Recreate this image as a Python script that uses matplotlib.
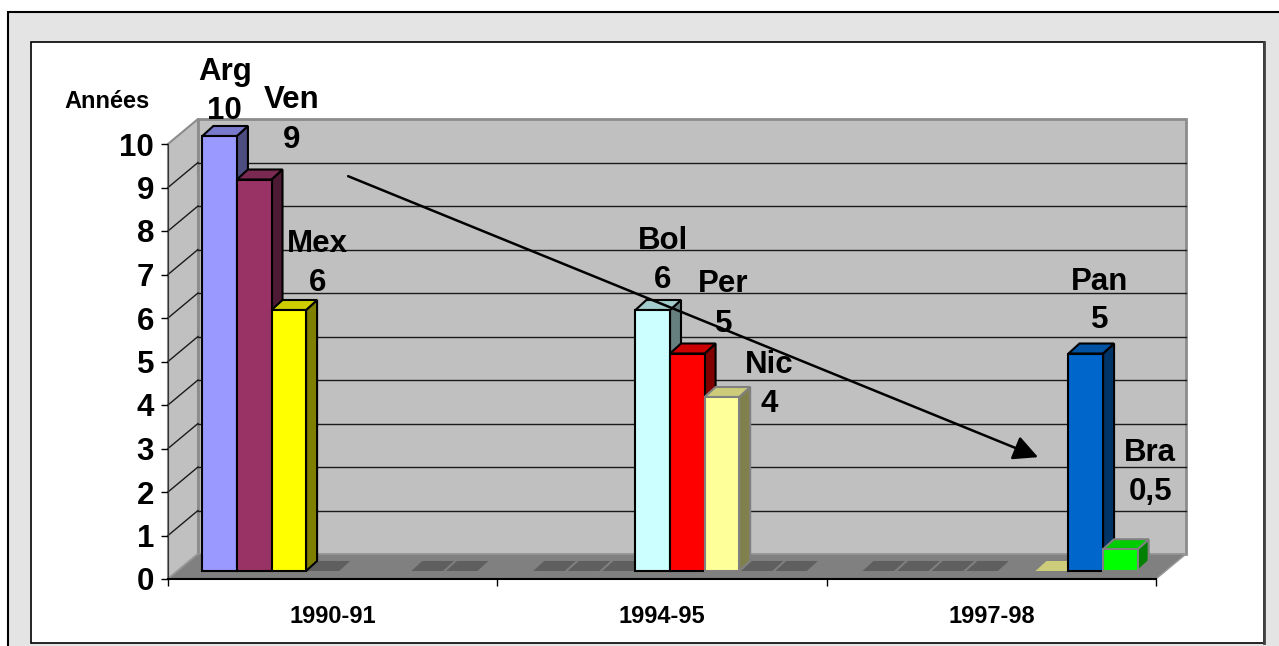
import matplotlib
matplotlib.use('Agg')
import matplotlib.pyplot as plt
from matplotlib.patches import Polygon, Rectangle
from matplotlib.colors import to_rgb

plt.rcParams['font.family'] = ['Liberation Sans', 'DejaVu Sans']
plt.rcParams['font.weight'] = 'bold'

# --- data -------------------------------------------------------------
categories = ['1990-91', '1994-95', '1997-98']
countries = ['Arg', 'Ven', 'Mex', 'Bol', 'Per', 'Nic', 'Pan', 'Bra']
# None = no point, 0 = flat mark on the floor
arg = [10, 0, 0]
ven = [9, 0, 0]
mex = [6, 0, 0]
bol = [0, 6, 0]
per = [None, 5, None]
nic = [None, 4, 0]
pan = [0, 0, 5]
bra = [0, 0, 0.5]
series = [arg, ven, mex, bol, per, nic, pan, bra]

# --- styles -----------------------------------------------------------
face_colors = ['#9999FF', '#993366', '#FFFF00', '#CCFFFF',
               '#FF0000', '#FFFF99', '#0066CC', '#00FF00']
edge_colors = ['black', 'black', 'black', 'black',
               'black', '#808080', 'black', '#808080']
zero_color = '#5F5F5F'
own_zero_color = {'Nic'}          # keeps its own shade on the floor
# label placement (pixels from the top of the bar front face)
label_dx = [5, 37, 29, 10, 36, 47, 14, 30]
label_dy = [17, 32, 19, 22, 22, -15, 25, 49]


def shade(c, f):
    r, g, b = to_rgb(c)
    return (r * f, g * f, b * f)


W, H = 1279, 646
fig = plt.figure(figsize=(W / 100, H / 100), dpi=100, facecolor='white')

# background frames
bg = fig.add_axes([0, 0, 1, 1])
bg.set_xlim(0, W)
bg.set_ylim(H, 0)
bg.axis('off')
bg.add_patch(Rectangle((8, 12), 1400, 700, fc='#E4E4E4', ec='black', lw=1.5))
bg.add_patch(Rectangle((31, 42), 1233, 601, fc='white', ec='black', lw=1.2))
bg.plot([1264, 1264], [42, 643], color='#404040', lw=2)

fig.text(107 / W, 1 - 101 / H, 'Années', ha='center', va='center', fontsize=17)

# main axes = front plane of the 3D box
ax = fig.add_axes([168 / W, (H - 579) / H, 988 / W, 435 / H])
ax.set_xlim(-0.5, 2.5)
ax.set_ylim(0, 10)
ax.patch.set_visible(False)

ppx = ax.transData.transform((1, 0))[0] - ax.transData.transform((0, 0))[0]
ppy = ax.transData.transform((0, 1))[1] - ax.transData.transform((0, 0))[1]


def off(dx, dy):
    return dx / ppx, dy / ppy


# walls and floor
wx, wy = off(30, 25)
ax.add_patch(Polygon([(-0.5 + wx, wy), (2.5 + wx, wy), (2.5 + wx, 10 + wy), (-0.5 + wx, 10 + wy)],
                     fc='#C0C0C0', ec='#8C8C8C', lw=2, zorder=1, clip_on=False))
ax.add_patch(Polygon([(-0.5, 0), (-0.5 + wx, wy), (-0.5 + wx, 10 + wy), (-0.5, 10)],
                     fc='#C0C0C0', ec='#8C8C8C', lw=1.5, zorder=1, clip_on=False))
for v in range(1, 10):
    ax.plot([-0.5 + wx, 2.5 + wx], [v + wy, v + wy], color='#1A1A1A', lw=1, zorder=2, clip_on=False)
    ax.plot([-0.5, -0.5 + wx], [v, v + wy], color='#1A1A1A', lw=1, zorder=2, clip_on=False)
ax.add_patch(Polygon([(-0.5, 0), (2.5, 0), (2.5 + wx, wy), (-0.5 + wx, wy)],
                     fc='#808080', ec='#9A9A9A', lw=1, zorder=2, clip_on=False))

# bars
bar_w = 0.105
n = len(countries)
fx, fy = off(8, 8)
bx, by = off(19, 18)

# flat marks for zero values first
for k, vals in enumerate(series):
    for c, v in enumerate(vals):
        if v is None or v != 0:
            continue
        x0 = c - n / 2 * bar_w + k * bar_w
        g, _ = off(1.5, 0)
        col = shade(face_colors[k], 0.8) if countries[k] in own_zero_color else zero_color
        ax.add_patch(Polygon([(x0 + fx + g, fy), (x0 + bar_w + fx - g, fy),
                              (x0 + bar_w + bx - g, by), (x0 + bx + g, by)],
                             fc=col, ec='none', zorder=3, clip_on=False))

z = 4
for c in range(len(categories)):
    for k, vals in enumerate(series):
        v = vals[c]
        if not v:
            continue
        x0 = c - n / 2 * bar_w + k * bar_w
        x1 = x0 + bar_w
        ec = edge_colors[k]
        side = Polygon([(x1 + fx, fy), (x1 + bx, by), (x1 + bx, v + by), (x1 + fx, v + fy)],
                       fc=shade(face_colors[k], 0.5), ec=ec, lw=1.5, zorder=z, clip_on=False)
        top = Polygon([(x0 + fx, v + fy), (x1 + fx, v + fy), (x1 + bx, v + by), (x0 + bx, v + by)],
                      fc=shade(face_colors[k], 0.8), ec=ec, lw=1.5, zorder=z, clip_on=False)
        front = Rectangle((x0 + fx, fy), bar_w, v, fc=face_colors[k], ec=ec, lw=1.5,
                          zorder=z, clip_on=False)
        for p in (side, top, front):
            ax.add_patch(p)
        z += 1

        txt = ('%g' % v).replace('.', ',')
        xc = (x0 + x1) / 2 + fx
        ax.annotate(txt, xy=(xc, v + fy), xytext=(label_dx[k], label_dy[k]),
                    textcoords='offset pixels', ha='center', va='baseline',
                    fontsize=22.5, zorder=30, annotation_clip=False)
        ax.annotate(countries[k], xy=(xc, v + fy), xytext=(label_dx[k], label_dy[k] + 39),
                    textcoords='offset pixels', ha='center', va='baseline',
                    fontsize=22.5, zorder=30, annotation_clip=False)

# trend arrow
ax.annotate('', xy=(2.142, 2.80), xytext=(0.047, 9.26),
            arrowprops=dict(arrowstyle='-|>,head_length=0.6,head_width=0.3', color='black',
                            lw=1.8, mutation_scale=25, shrinkA=0, shrinkB=0),
            zorder=40, annotation_clip=False)

# axes, ticks
for s in ('top', 'right'):
    ax.spines[s].set_visible(False)
ax.spines['left'].set_color('#333333')
ax.spines['left'].set_zorder(3)
ax.spines['bottom'].set_linewidth(1.5)
ax.spines['bottom'].set_zorder(3)
ax.set_yticks(range(11))
ax.tick_params(axis='y', length=5, width=1, pad=5, labelsize=22.5)
ax.set_xticks([-0.5, 0.5, 1.5, 2.5])
ax.set_xticklabels([])
ax.set_xticks([0, 1, 2], minor=True)
ax.set_xticklabels(categories, minor=True)
ax.tick_params(axis='x', which='major', length=5, width=1)
ax.tick_params(axis='x', which='minor', length=0, pad=19, labelsize=17)

fig.savefig('out.png', dpi=100)
